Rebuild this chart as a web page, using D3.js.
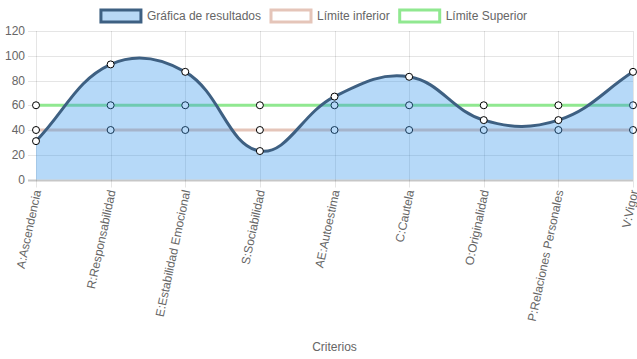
<!DOCTYPE html>
<html>
<head>
<meta charset="utf-8">
<script src="https://cdnjs.cloudflare.com/ajax/libs/d3/7.8.5/d3.min.js"></script>
<style>
  html, body { margin: 0; padding: 0; background: #fff; }
  svg { display: block; font-family: "Liberation Sans", Arial, sans-serif; }
</style>
</head>
<body>
<svg id="chart" width="637" height="359"></svg>
<script>
const categories = ["A:Ascendencia", "R:Responsabilidad", "E:Estabilidad Emocional", "S:Sociabilidad",
  "AE:Autoestima", "C:Cautela", "O:Originalidad", "P:Relaciones Personales", "V:Vigor"];
const resultados = [31, 93, 87, 23, 67, 83, 48, 48, 87];
const limiteInferior = [40, 40, 40, 40, 40, 40, 40, 40, 40];
const limiteSuperior = [60, 60, 60, 60, 60, 60, 60, 60, 60];
const yTicks = [0, 20, 40, 60, 80, 100, 120];
const legendLabels = ["Gráfica de resultados", "Límite inferior", "Límite Superior"];
const xTitle = "Criterios";

const svg = d3.select("#chart");
const pLeft = 36, pRight = 633, pTop = 31, pBottom = 179.5;
const x = d3.scalePoint().domain(categories).range([pLeft, pRight]).padding(0);
const y = d3.scaleLinear().domain([0, 120]).range([pBottom, pTop]);

const textColor = "#666";
const resultLine = "rgb(62,96,130)";
const resultFill = "rgba(54,150,235,0.36)";
const lowerColor = "rgb(229,197,185)";
const upperColor = "rgb(144,232,144)";

// grid
const grid = svg.append("g");
yTicks.forEach(t => {
  grid.append("line").attr("x1", pLeft - 8).attr("x2", pRight)
    .attr("y1", Math.round(y(t)) + 0.5).attr("y2", Math.round(y(t)) + 0.5)
    .attr("stroke", t === 0 ? "rgba(0,0,0,0.22)" : "rgba(0,0,0,0.1)").attr("stroke-width", t === 0 ? 2 : 1);
});
categories.forEach(c => {
  grid.append("line").attr("x1", Math.round(x(c)) + 0.5).attr("x2", Math.round(x(c)) + 0.5)
    .attr("y1", pTop).attr("y2", pBottom + 8)
    .attr("stroke", "rgba(0,0,0,0.1)");
});

// y tick labels
svg.append("g").selectAll("text").data(yTicks).join("text")
  .attr("x", 25).attr("y", d => y(d)).attr("dy", "0.35em")
  .attr("text-anchor", "end").attr("font-size", 12).attr("fill", textColor)
  .text(d => d);

// x tick labels
svg.append("g").selectAll("text").data(categories).join("text")
  .attr("transform", d => `translate(${x(d) + 1},${190}) rotate(-78)`)
  .attr("dy", "0.35em")
  .attr("text-anchor", "end").attr("font-size", 12).attr("fill", textColor)
  .text(d => d);

svg.append("text").attr("x", (pLeft + pRight) / 2).attr("y", 351)
  .attr("text-anchor", "middle").attr("font-size", 12).attr("fill", textColor).text(xTitle);

// Chart.js-like spline
function splinePath(vals, tension) {
  const pts = vals.map((v, i) => ({ x: x(categories[i]), y: y(v) }));
  const cps = pts.map((p, i) => {
    const prev = i > 0 ? pts[i - 1] : p;
    const next = i < pts.length - 1 ? pts[i + 1] : p;
    const d01 = Math.hypot(p.x - prev.x, p.y - prev.y);
    const d12 = Math.hypot(next.x - p.x, next.y - p.y);
    let s01 = d01 / (d01 + d12), s12 = d12 / (d01 + d12);
    if (isNaN(s01)) s01 = 0; if (isNaN(s12)) s12 = 0;
    const fa = tension * s01, fb = tension * s12;
    const clampX = v => Math.max(pLeft, Math.min(pRight, v));
    const clampY = v => Math.max(pTop, Math.min(pBottom, v));
    return {
      px: clampX(p.x - fa * (next.x - prev.x)), py: clampY(p.y - fa * (next.y - prev.y)),
      nx: clampX(p.x + fb * (next.x - prev.x)), ny: clampY(p.y + fb * (next.y - prev.y))
    };
  });
  let d = `M${pts[0].x},${pts[0].y}`;
  for (let i = 1; i < pts.length; i++) {
    d += `C${cps[i - 1].nx},${cps[i - 1].ny},${cps[i].px},${cps[i].py},${pts[i].x},${pts[i].y}`;
  }
  return { d, pts };
}

function drawPoints(vals) {
  svg.append("g").selectAll("circle").data(vals).join("circle")
    .attr("cx", (d, i) => x(categories[i])).attr("cy", d => y(d)).attr("r", 3.5)
    .attr("fill", "#fff").attr("stroke", "#000").attr("stroke-width", 1);
}

// Upper limit (drawn first)
const up = splinePath(limiteSuperior, 0.4);
svg.append("path").attr("d", up.d).attr("fill", "none").attr("stroke", upperColor).attr("stroke-width", 3);
drawPoints(limiteSuperior);
// Lower limit
const lo = splinePath(limiteInferior, 0.4);
svg.append("path").attr("d", lo.d).attr("fill", "none").attr("stroke", lowerColor).attr("stroke-width", 3);
drawPoints(limiteInferior);
// Results
const rs = splinePath(resultados, 0.4);
svg.append("path").attr("d", rs.d + `L${pRight},${y(0)}L${pLeft},${y(0)}Z`).attr("fill", resultFill);
svg.append("path").attr("d", rs.d).attr("fill", "none").attr("stroke", resultLine).attr("stroke-width", 3);
drawPoints(resultados);

// Legend
const legendItems = [
  { label: legendLabels[0], fill: "rgb(184,216,245)", stroke: resultLine },
  { label: legendLabels[1], fill: "#fff", stroke: lowerColor },
  { label: legendLabels[2], fill: "#fff", stroke: upperColor }
];
const lg = svg.append("g");
const widths = legendItems.map(it => {
  const t = lg.append("text").attr("font-size", 12).text(it.label);
  const w = t.node().getComputedTextLength();
  t.remove();
  return 40 + 6 + w;
});
const total = d3.sum(widths) + 10 * (widths.length - 1);
let cx = 314 - total / 2;
legendItems.forEach((it, i) => {
  lg.append("rect").attr("x", cx).attr("y", 10).attr("width", 40).attr("height", 12)
    .attr("fill", it.fill).attr("stroke", it.stroke).attr("stroke-width", 3);
  lg.append("text").attr("x", cx + 46).attr("y", 16).attr("dy", "0.35em")
    .attr("font-size", 12).attr("fill", textColor).text(it.label);
  cx += widths[i] + 10;
});
</script>
</body>
</html>
